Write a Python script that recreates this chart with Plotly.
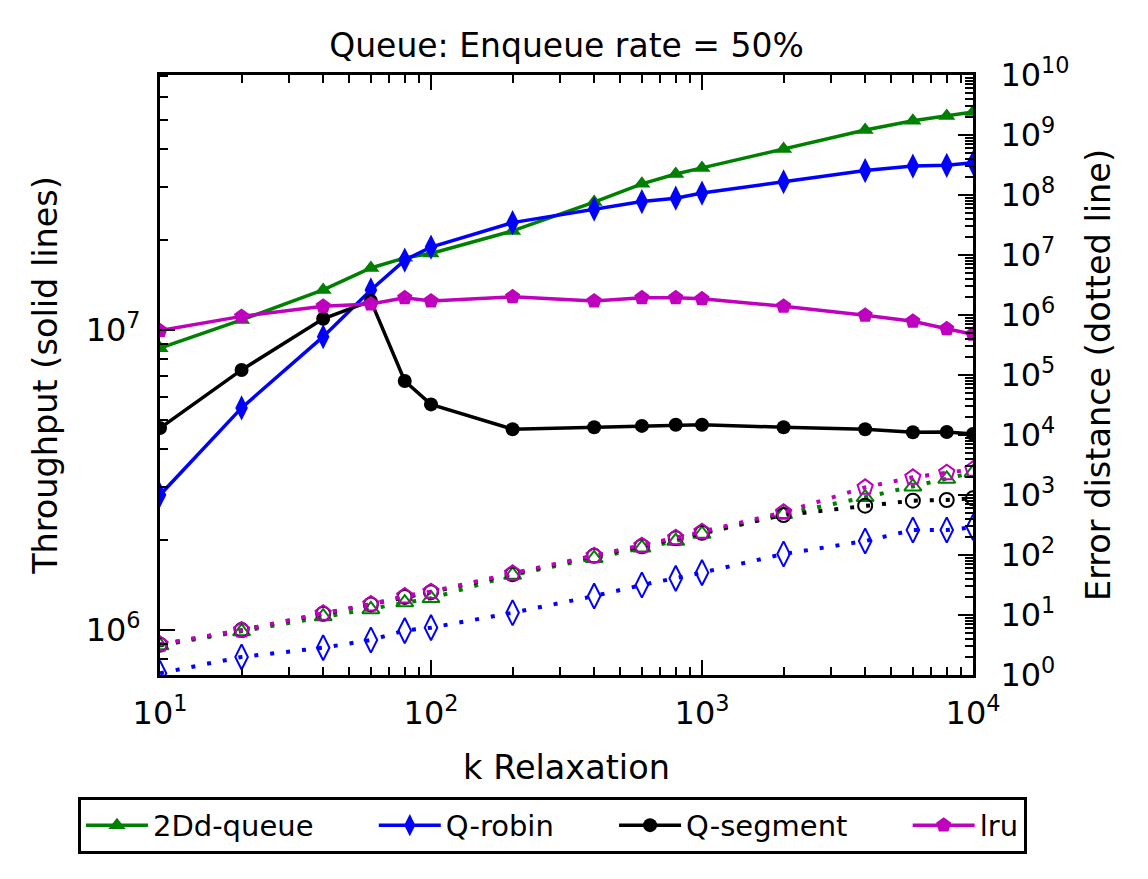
import plotly.graph_objects as go

k = [10, 20, 40, 60, 80, 100, 200, 400, 600, 800, 1000, 2000, 4000, 6000, 8000, 10000]

# Throughput (left axis, solid lines)
thr_2dd = [8.7e6, 1.08e7, 1.36e7, 1.61e7, 1.74e7, 1.8e7, 2.14e7, 2.67e7, 3.07e7, 3.31e7, 3.47e7, 4.01e7, 4.64e7, 4.98e7, 5.17e7, 5.33e7]
thr_robin = [2.82e6, 5.5e6, 9.5e6, 1.36e7, 1.71e7, 1.89e7, 2.28e7, 2.53e7, 2.68e7, 2.75e7, 2.86e7, 3.12e7, 3.4e7, 3.52e7, 3.54e7, 3.61e7]
thr_segment = [4.71e6, 7.36e6, 1.09e7, 1.25e7, 6.76e6, 5.65e6, 4.67e6, 4.74e6, 4.79e6, 4.83e6, 4.83e6, 4.74e6, 4.67e6, 4.56e6, 4.57e6, 4.5e6]
thr_lru = [9.95e6, 1.11e7, 1.2e7, 1.22e7, 1.28e7, 1.25e7, 1.29e7, 1.25e7, 1.28e7, 1.28e7, 1.27e7, 1.2e7, 1.12e7, 1.07e7, 1.01e7, 9.68e6]

# Error distance (right axis, dotted lines)
err_2dd = [3.1, 5.3, 9.4, 12.4, 16.1, 19, 46.4, 88, 132, 171, 224, 477, 915, 1376, 1848, 2354]
err_robin = [1.07, 2.0, 2.85, 3.83, 5.5, 6.15, 10.9, 20.7, 31.6, 40.8, 50.8, 104, 171, 261, 261, 289]
err_segment = [3.2, 5.6, 10.5, 15, 20, 24, 48, 97, 140, 190, 235, 464, 663, 805, 826, 880]
err_lru = [3.25, 5.6, 10.7, 15.2, 20.7, 24.5, 49.5, 97.4, 143, 194, 245, 514, 1343, 1970, 2355, 2680]

names = ["2Dd-queue", "Q-robin", "Q-segment", "lru"]
colors = ["#008000", "#0000ff", "#000000", "#bf00bf"]
sym_solid = ["triangle-up", "diamond-tall", "circle", "pentagon"]
sym_open = ["triangle-up-open", "diamond-tall-open", "circle-open", "pentagon-open"]
msize = [15, 18, 14, 16]
thr = [thr_2dd, thr_robin, thr_segment, thr_lru]
err = [err_2dd, err_robin, err_segment, err_lru]

FONT = "DejaVu Sans"
PAD = "\u00a0" * 6
fig = go.Figure()

for i in range(4):
    fig.add_trace(go.Scatter(
        x=k, y=thr[i], name=names[i] + (PAD if i < 3 else ""), mode="lines+markers",
        line=dict(color=colors[i], width=3.5),
        marker=dict(symbol=sym_solid[i], size=msize[i], color=colors[i],
                    line=dict(width=0)),
        yaxis="y", showlegend=True))

for i in range(4):
    fig.add_trace(go.Scatter(
        x=k, y=err[i], name=names[i] + " error", mode="lines+markers",
        line=dict(color=colors[i], width=4, dash="4px,12px"),
        marker=dict(symbol=sym_open[i], size=msize[i], color=colors[i],
                    line=dict(width=2, color=colors[i])),
        yaxis="y2", showlegend=False))

def sup(e):
    return "10<sup>%d</sup>" % e

x_minor = [m * 10 ** d for d in range(1, 4) for m in range(2, 10)]
y_minor = [m * 10 ** d for d in range(5, 8) for m in range(2, 10)]
y2_minor = [m * 10 ** d for d in range(0, 10) for m in range(2, 10)]

TICKF = 32
AXF = 33.5

fig.update_layout(
    width=1148, height=879,
    margin=dict(l=160, r=175, t=75, b=204),
    paper_bgcolor="white", plot_bgcolor="white",
    font=dict(family=FONT, color="black", size=30),
    title=dict(text="Queue: Enqueue rate = 50%", x=0.4935, xanchor="center",
               y=1 - 45 / 879, yanchor="middle", font=dict(size=33)),
    xaxis=dict(type="log", range=[1, 4], tickmode="array",
               tickvals=[10, 100, 1000, 10000], ticktext=[sup(e) for e in range(1, 5)],
               ticks="inside", ticklen=15, tickwidth=2, tickcolor="black",
               minor=dict(tickmode="array", tickvals=x_minor, ticks="inside",
                          ticklen=8, tickwidth=1.5, tickcolor="black", showgrid=False),
               showline=True, linewidth=3, linecolor="black", mirror="ticks",
               showgrid=False, zeroline=False, ticklabelstandoff=8, automargin=False,
               tickfont=dict(size=TICKF),
               title=dict(text="k Relaxation", font=dict(size=AXF), standoff=25)),
    yaxis=dict(type="log", range=[5.85, 7.85], tickmode="array",
               tickvals=[1e6, 1e7], ticktext=[sup(6), sup(7)],
               ticks="inside", ticklen=15, tickwidth=2, tickcolor="black",
               minor=dict(tickmode="array", tickvals=y_minor, ticks="inside",
                          ticklen=8, tickwidth=1.5, tickcolor="black", showgrid=False),
               showline=True, linewidth=3, linecolor="black", mirror=False,
               showgrid=False, zeroline=False, ticklabelstandoff=10, automargin=False,
               tickfont=dict(size=TICKF),
               title=dict(text="Throughput (solid lines)", font=dict(size=AXF), standoff=18)),
    yaxis2=dict(type="log", range=[0, 10], overlaying="y", side="right",
                tickmode="array", tickvals=[10 ** e for e in range(0, 11)],
                ticktext=[sup(e) for e in range(0, 11)],
                ticks="inside", ticklen=15, tickwidth=2, tickcolor="black",
                minor=dict(tickmode="array", tickvals=y2_minor, ticks="inside",
                           ticklen=8, tickwidth=1.5, tickcolor="black", showgrid=False),
                showline=True, linewidth=3, linecolor="black",
                showgrid=False, zeroline=False, ticklabelstandoff=18, automargin=False,
                tickfont=dict(size=TICKF),
                title=dict(text="Error distance (dotted line)", font=dict(size=AXF), standoff=18)),
    legend=dict(orientation="h", x=-0.1009, xanchor="left", y=-0.203, yanchor="top",
                bordercolor="black", borderwidth=3, bgcolor="white",
                font=dict(size=29), itemwidth=62),
)

fig.write_html("out.html")
